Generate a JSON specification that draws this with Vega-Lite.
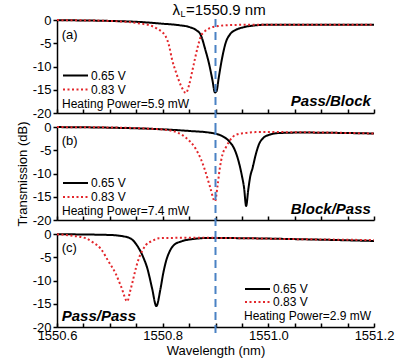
{
  "$schema": "https://vega.github.io/schema/vega-lite/v6.json",
  "padding": {"left": 16, "top": 2, "right": 1, "bottom": 5},
  "bounds": "flush",
  "spacing": 14,
  "config": {
    "font": "Liberation Sans",
    "view": {"stroke": null},
    "axis": {
      "domainColor": "#000", "domainWidth": 1.5, "tickColor": "#000", "tickWidth": 1.5,
      "tickSize": 4, "labelColor": "#000", "labelFontSize": 13, "titleFontSize": 13,
      "titleFontWeight": "normal", "titleColor": "#000", "grid": false, "labelFlush": false,
      "labelOverlap": false, "labelPadding": 2
    },
    "legend": {
      "orient": "none", "titleOrient": "bottom", "titleAnchor": "start", "symbolType": "M-1,0H4",
      "symbolSize": 100, "symbolStrokeWidth": 2, "labelFontSize": 12, "titleFontSize": 12,
      "titleFontWeight": "normal", "labelColor": "#000", "titleColor": "#000", "padding": 0,
      "rowPadding": 2, "titlePadding": 3, "labelOffset": 17
    }
  },
  "resolve": {"legend": {"color": "independent", "strokeDash": "independent"}},
  "datasets": {
    "a": [
      {"wl": 1550.60, "dB": -0.05, "V": "0.65 V"},
      {"wl": 1550.70, "dB": -0.2, "V": "0.65 V"},
      {"wl": 1550.76, "dB": -0.45, "V": "0.65 V"},
      {"wl": 1550.80, "dB": -0.8, "V": "0.65 V"},
      {"wl": 1550.83, "dB": -1.1, "V": "0.65 V"},
      {"wl": 1550.85, "dB": -1.5, "V": "0.65 V"},
      {"wl": 1550.863, "dB": -2.15, "V": "0.65 V"},
      {"wl": 1550.872, "dB": -3.2, "V": "0.65 V"},
      {"wl": 1550.881, "dB": -6.5, "V": "0.65 V"},
      {"wl": 1550.888, "dB": -9.5, "V": "0.65 V"},
      {"wl": 1550.894, "dB": -12.8, "V": "0.65 V"},
      {"wl": 1550.899, "dB": -15.6, "V": "0.65 V"},
      {"wl": 1550.902, "dB": -15.3, "V": "0.65 V"},
      {"wl": 1550.906, "dB": -12.5, "V": "0.65 V"},
      {"wl": 1550.912, "dB": -8.5, "V": "0.65 V"},
      {"wl": 1550.919, "dB": -5.0, "V": "0.65 V"},
      {"wl": 1550.928, "dB": -3.0, "V": "0.65 V"},
      {"wl": 1550.938, "dB": -2.15, "V": "0.65 V"},
      {"wl": 1550.955, "dB": -1.5, "V": "0.65 V"},
      {"wl": 1550.976, "dB": -1.15, "V": "0.65 V"},
      {"wl": 1551.00, "dB": -1.0, "V": "0.65 V"},
      {"wl": 1551.10, "dB": -1.0, "V": "0.65 V"},
      {"wl": 1551.20, "dB": -1.0, "V": "0.65 V"},
      {"wl": 1550.60, "dB": -0.02, "V": "0.83 V"},
      {"wl": 1550.70, "dB": -0.2, "V": "0.83 V"},
      {"wl": 1550.736, "dB": -0.45, "V": "0.83 V"},
      {"wl": 1550.76, "dB": -0.8, "V": "0.83 V"},
      {"wl": 1550.774, "dB": -1.1, "V": "0.83 V"},
      {"wl": 1550.79, "dB": -1.9, "V": "0.83 V"},
      {"wl": 1550.806, "dB": -3.6, "V": "0.83 V"},
      {"wl": 1550.812, "dB": -5.5, "V": "0.83 V"},
      {"wl": 1550.818, "dB": -8.6, "V": "0.83 V"},
      {"wl": 1550.826, "dB": -11.5, "V": "0.83 V"},
      {"wl": 1550.835, "dB": -14.2, "V": "0.83 V"},
      {"wl": 1550.844, "dB": -15.7, "V": "0.83 V"},
      {"wl": 1550.850, "dB": -14.0, "V": "0.83 V"},
      {"wl": 1550.856, "dB": -11.0, "V": "0.83 V"},
      {"wl": 1550.862, "dB": -7.9, "V": "0.83 V"},
      {"wl": 1550.867, "dB": -5.5, "V": "0.83 V"},
      {"wl": 1550.872, "dB": -3.6, "V": "0.83 V"},
      {"wl": 1550.880, "dB": -2.4, "V": "0.83 V"},
      {"wl": 1550.888, "dB": -1.8, "V": "0.83 V"},
      {"wl": 1550.905, "dB": -1.3, "V": "0.83 V"},
      {"wl": 1550.926, "dB": -1.1, "V": "0.83 V"},
      {"wl": 1550.976, "dB": -1.0, "V": "0.83 V"},
      {"wl": 1551.10, "dB": -1.0, "V": "0.83 V"},
      {"wl": 1551.20, "dB": -1.0, "V": "0.83 V"}
    ],
    "b": [
      {"wl": 1550.60, "dB": -0.02, "V": "0.65 V"},
      {"wl": 1550.70, "dB": -0.15, "V": "0.65 V"},
      {"wl": 1550.80, "dB": -0.5, "V": "0.65 V"},
      {"wl": 1550.85, "dB": -0.85, "V": "0.65 V"},
      {"wl": 1550.894, "dB": -1.3, "V": "0.65 V"},
      {"wl": 1550.91, "dB": -1.8, "V": "0.65 V"},
      {"wl": 1550.926, "dB": -3.1, "V": "0.65 V"},
      {"wl": 1550.936, "dB": -4.8, "V": "0.65 V"},
      {"wl": 1550.944, "dB": -7.5, "V": "0.65 V"},
      {"wl": 1550.950, "dB": -10.5, "V": "0.65 V"},
      {"wl": 1550.954, "dB": -13.0, "V": "0.65 V"},
      {"wl": 1550.958, "dB": -17.0, "V": "0.65 V"},
      {"wl": 1550.962, "dB": -13.5, "V": "0.65 V"},
      {"wl": 1550.966, "dB": -10.5, "V": "0.65 V"},
      {"wl": 1550.970, "dB": -8.9, "V": "0.65 V"},
      {"wl": 1550.976, "dB": -6.0, "V": "0.65 V"},
      {"wl": 1550.982, "dB": -3.8, "V": "0.65 V"},
      {"wl": 1550.990, "dB": -2.4, "V": "0.65 V"},
      {"wl": 1551.001, "dB": -1.7, "V": "0.65 V"},
      {"wl": 1551.02, "dB": -1.3, "V": "0.65 V"},
      {"wl": 1551.06, "dB": -1.2, "V": "0.65 V"},
      {"wl": 1551.20, "dB": -1.4, "V": "0.65 V"},
      {"wl": 1550.60, "dB": -0.02, "V": "0.83 V"},
      {"wl": 1550.70, "dB": -0.1, "V": "0.83 V"},
      {"wl": 1550.78, "dB": -0.4, "V": "0.83 V"},
      {"wl": 1550.812, "dB": -0.7, "V": "0.83 V"},
      {"wl": 1550.83, "dB": -1.3, "V": "0.83 V"},
      {"wl": 1550.845, "dB": -2.4, "V": "0.83 V"},
      {"wl": 1550.862, "dB": -4.6, "V": "0.83 V"},
      {"wl": 1550.872, "dB": -6.8, "V": "0.83 V"},
      {"wl": 1550.881, "dB": -9.6, "V": "0.83 V"},
      {"wl": 1550.890, "dB": -13.0, "V": "0.83 V"},
      {"wl": 1550.899, "dB": -16.0, "V": "0.83 V"},
      {"wl": 1550.904, "dB": -12.5, "V": "0.83 V"},
      {"wl": 1550.908, "dB": -9.0, "V": "0.83 V"},
      {"wl": 1550.913, "dB": -6.0, "V": "0.83 V"},
      {"wl": 1550.920, "dB": -4.3, "V": "0.83 V"},
      {"wl": 1550.926, "dB": -3.1, "V": "0.83 V"},
      {"wl": 1550.938, "dB": -1.7, "V": "0.83 V"},
      {"wl": 1550.955, "dB": -1.3, "V": "0.83 V"},
      {"wl": 1550.976, "dB": -1.1, "V": "0.83 V"},
      {"wl": 1551.02, "dB": -1.1, "V": "0.83 V"},
      {"wl": 1551.20, "dB": -1.4, "V": "0.83 V"}
    ],
    "c": [
      {"wl": 1550.60, "dB": -0.05, "V": "0.65 V"},
      {"wl": 1550.698, "dB": -0.2, "V": "0.65 V"},
      {"wl": 1550.73, "dB": -0.6, "V": "0.65 V"},
      {"wl": 1550.745, "dB": -1.5, "V": "0.65 V"},
      {"wl": 1550.755, "dB": -3.1, "V": "0.65 V"},
      {"wl": 1550.764, "dB": -5.2, "V": "0.65 V"},
      {"wl": 1550.771, "dB": -7.4, "V": "0.65 V"},
      {"wl": 1550.780, "dB": -11.7, "V": "0.65 V"},
      {"wl": 1550.788, "dB": -15.5, "V": "0.65 V"},
      {"wl": 1550.796, "dB": -11.7, "V": "0.65 V"},
      {"wl": 1550.801, "dB": -8.5, "V": "0.65 V"},
      {"wl": 1550.806, "dB": -6.0, "V": "0.65 V"},
      {"wl": 1550.813, "dB": -3.8, "V": "0.65 V"},
      {"wl": 1550.821, "dB": -2.4, "V": "0.65 V"},
      {"wl": 1550.835, "dB": -1.6, "V": "0.65 V"},
      {"wl": 1550.856, "dB": -1.1, "V": "0.65 V"},
      {"wl": 1550.888, "dB": -0.85, "V": "0.65 V"},
      {"wl": 1550.95, "dB": -0.9, "V": "0.65 V"},
      {"wl": 1551.05, "dB": -1.1, "V": "0.65 V"},
      {"wl": 1551.20, "dB": -1.5, "V": "0.65 V"},
      {"wl": 1550.60, "dB": -0.05, "V": "0.83 V"},
      {"wl": 1550.63, "dB": -0.4, "V": "0.83 V"},
      {"wl": 1550.654, "dB": -0.9, "V": "0.83 V"},
      {"wl": 1550.668, "dB": -1.8, "V": "0.83 V"},
      {"wl": 1550.683, "dB": -3.2, "V": "0.83 V"},
      {"wl": 1550.698, "dB": -6.0, "V": "0.83 V"},
      {"wl": 1550.711, "dB": -8.5, "V": "0.83 V"},
      {"wl": 1550.722, "dB": -11.5, "V": "0.83 V"},
      {"wl": 1550.733, "dB": -14.5, "V": "0.83 V"},
      {"wl": 1550.738, "dB": -12.5, "V": "0.83 V"},
      {"wl": 1550.743, "dB": -10.3, "V": "0.83 V"},
      {"wl": 1550.749, "dB": -7.5, "V": "0.83 V"},
      {"wl": 1550.755, "dB": -5.2, "V": "0.83 V"},
      {"wl": 1550.762, "dB": -3.5, "V": "0.83 V"},
      {"wl": 1550.768, "dB": -2.4, "V": "0.83 V"},
      {"wl": 1550.78, "dB": -1.5, "V": "0.83 V"},
      {"wl": 1550.793, "dB": -0.9, "V": "0.83 V"},
      {"wl": 1550.856, "dB": -0.8, "V": "0.83 V"},
      {"wl": 1550.95, "dB": -0.9, "V": "0.83 V"},
      {"wl": 1551.05, "dB": -1.1, "V": "0.83 V"},
      {"wl": 1551.20, "dB": -1.3, "V": "0.83 V"}
    ]
  },
  "vconcat": [
    {
      "width": 317, "height": 93,
      "encoding": {
        "x": {"type": "quantitative", "scale": {"domain": [1550.6, 1551.2], "nice": false, "zero": false},
          "axis": {"values": [1550.6, 1550.65, 1550.7, 1550.75, 1550.8, 1550.85, 1550.9, 1550.95, 1551.0, 1551.05, 1551.1, 1551.15, 1551.2], "labels": false, "title": null, "labelOverlap": false, "tickSize": -4}},
        "y": {"type": "quantitative", "scale": {"domain": [-20, 0], "nice": false},
          "axis": {"values": [0, -5, -10, -15, -20], "labelExpr": "'' + datum.value", "title": null, "labelOverlap": false}}
      },
      "layer": [
        {
          "data": {"name": "a"},
          "mark": {"type": "line", "strokeWidth": 2, "interpolate": "monotone"},
          "encoding": {
            "x": {"field": "wl", "type": "quantitative", "scale": {"domain": [1550.6, 1551.2], "nice": false, "zero": false},
              "axis": {"values": [1550.6, 1550.65, 1550.7, 1550.75, 1550.8, 1550.85, 1550.9, 1550.95, 1551.0, 1551.05, 1551.1, 1551.15, 1551.2], "labels": false, "title": null, "labelOverlap": false, "tickSize": -4}},
            "y": {"field": "dB", "type": "quantitative", "scale": {"domain": [-20, 0], "nice": false},
              "axis": {"values": [0, -5, -10, -15, -20], "labelExpr": "'' + datum.value", "title": null, "labelOverlap": false}},
            "color": {"field": "V", "type": "nominal", "scale": {"domain": ["0.65 V", "0.83 V"], "range": ["#000000", "#e3262b"]},
              "legend": {"title": "Heating Power=5.9 mW", "legendX": 5, "legendY": 49.5}},
            "strokeDash": {"field": "V", "type": "nominal", "scale": {"domain": ["0.65 V", "0.83 V"], "range": [[1, 0], [2, 2.5]]},
              "legend": {"title": "Heating Power=5.9 mW", "legendX": 5, "legendY": 49.5}}
          }
        },
        {
          "data": {"values": [{}]},
          "mark": {"type": "rule", "color": "#4a82c4", "strokeDash": [8, 5], "strokeWidth": 2, "clip": false},
          "encoding": {"x": {"datum": 1550.9}, "y": {"datum": 0.2}, "y2": {"datum": -23}}
        },
        {
          "data": {"values": [{}]},
          "mark": {"type": "text", "text": "(a)", "fontSize": 13, "align": "left", "baseline": "middle", "color": "#000"},
          "encoding": {"x": {"datum": 1550.609}, "y": {"datum": -3.3}}
        },
        {
          "data": {"values": [{}]},
          "mark": {"type": "text", "text": "Pass/Block", "fontSize": 15, "fontWeight": "bold", "fontStyle": "italic", "align": "right", "baseline": "middle", "color": "#000"},
          "encoding": {"x": {"datum": 1551.194}, "y": {"datum": -17.4}}
        },
        {
          "data": {"values": [{}]},
          "mark": {"type": "text", "text": "λ", "fontSize": 15, "align": "right", "baseline": "alphabetic", "color": "#000", "clip": false},
          "encoding": {"x": {"datum": 1550.8328}, "y": {"datum": 1.1}}
        },
        {
          "data": {"values": [{}]},
          "mark": {"type": "text", "text": "L", "fontSize": 9, "align": "left", "baseline": "alphabetic", "color": "#000", "clip": false},
          "encoding": {"x": {"datum": 1550.8337}, "y": {"datum": 0.6}}
        },
        {
          "data": {"values": [{}]},
          "mark": {"type": "text", "text": "=1550.9 nm", "fontSize": 15, "align": "left", "baseline": "alphabetic", "color": "#000", "clip": false},
          "encoding": {"x": {"datum": 1550.8442}, "y": {"datum": 1.1}}
        }
      ]
    },
    {
      "width": 317, "height": 93,
      "encoding": {
        "x": {"type": "quantitative", "scale": {"domain": [1550.6, 1551.2], "nice": false, "zero": false},
          "axis": {"values": [1550.6, 1550.65, 1550.7, 1550.75, 1550.8, 1550.85, 1550.9, 1550.95, 1551.0, 1551.05, 1551.1, 1551.15, 1551.2], "labels": false, "title": null, "labelOverlap": false, "tickSize": -4}},
        "y": {"type": "quantitative", "scale": {"domain": [-20, 0], "nice": false},
          "axis": {"values": [0, -5, -10, -15, -20], "labelExpr": "'' + datum.value", "title": "Transmission (dB)", "titlePadding": 3, "labelOverlap": false}}
      },
      "layer": [
        {
          "data": {"name": "b"},
          "mark": {"type": "line", "strokeWidth": 2, "interpolate": "monotone"},
          "encoding": {
            "x": {"field": "wl", "type": "quantitative", "scale": {"domain": [1550.6, 1551.2], "nice": false, "zero": false},
              "axis": {"values": [1550.6, 1550.65, 1550.7, 1550.75, 1550.8, 1550.85, 1550.9, 1550.95, 1551.0, 1551.05, 1551.1, 1551.15, 1551.2], "labels": false, "title": null, "labelOverlap": false, "tickSize": -4}},
            "y": {"field": "dB", "type": "quantitative", "scale": {"domain": [-20, 0], "nice": false},
              "axis": {"values": [0, -5, -10, -15, -20], "labelExpr": "'' + datum.value", "title": "Transmission (dB)", "titlePadding": 3, "labelOverlap": false}},
            "color": {"field": "V", "type": "nominal", "scale": {"domain": ["0.65 V", "0.83 V"], "range": ["#000000", "#e3262b"]},
              "legend": {"title": "Heating Power=7.4 mW", "legendX": 5, "legendY": 50}},
            "strokeDash": {"field": "V", "type": "nominal", "scale": {"domain": ["0.65 V", "0.83 V"], "range": [[1, 0], [2, 2.5]]},
              "legend": {"title": "Heating Power=7.4 mW", "legendX": 5, "legendY": 50}}
          }
        },
        {
          "data": {"values": [{}]},
          "mark": {"type": "rule", "color": "#4a82c4", "strokeDash": [8, 5], "strokeWidth": 2, "clip": false},
          "encoding": {"x": {"datum": 1550.9}, "y": {"datum": 0}, "y2": {"datum": -23}}
        },
        {
          "data": {"values": [{}]},
          "mark": {"type": "text", "text": "(b)", "fontSize": 13, "align": "left", "baseline": "middle", "color": "#000"},
          "encoding": {"x": {"datum": 1550.609}, "y": {"datum": -3.0}}
        },
        {
          "data": {"values": [{}]},
          "mark": {"type": "text", "text": "Block/Pass", "fontSize": 15, "fontWeight": "bold", "fontStyle": "italic", "align": "right", "baseline": "middle", "color": "#000"},
          "encoding": {"x": {"datum": 1551.194}, "y": {"datum": -17.6}}
        }
      ]
    },
    {
      "width": 317, "height": 93,
      "encoding": {
        "x": {"type": "quantitative", "scale": {"domain": [1550.6, 1551.2], "nice": false, "zero": false},
          "axis": {"values": [1550.6, 1550.65, 1550.7, 1550.75, 1550.8, 1550.85, 1550.9, 1550.95, 1551.0, 1551.05, 1551.1, 1551.15, 1551.2],
            "labelExpr": "(round(datum.value*100) % 20 == 0) ? format(datum.value, '.1f') : ''", "title": "Wavelength (nm)", "titlePadding": 2, "labelOverlap": false, "tickSize": -4, "labelPadding": 6}},
        "y": {"type": "quantitative", "scale": {"domain": [-20, 0], "nice": false},
          "axis": {"values": [0, -5, -10, -15, -20], "labelExpr": "'' + datum.value", "title": null, "labelOverlap": false}}
      },
      "layer": [
        {
          "data": {"name": "c"},
          "mark": {"type": "line", "strokeWidth": 2, "interpolate": "monotone"},
          "encoding": {
            "x": {"field": "wl", "type": "quantitative", "scale": {"domain": [1550.6, 1551.2], "nice": false, "zero": false},
              "axis": {"values": [1550.6, 1550.65, 1550.7, 1550.75, 1550.8, 1550.85, 1550.9, 1550.95, 1551.0, 1551.05, 1551.1, 1551.15, 1551.2],
                "labelExpr": "(round(datum.value*100) % 20 == 0) ? format(datum.value, '.1f') : ''", "title": "Wavelength (nm)", "titlePadding": 2, "labelOverlap": false, "tickSize": -4, "labelPadding": 6}},
            "y": {"field": "dB", "type": "quantitative", "scale": {"domain": [-20, 0], "nice": false},
              "axis": {"values": [0, -5, -10, -15, -20], "labelExpr": "'' + datum.value", "title": null, "labelOverlap": false}},
            "color": {"field": "V", "type": "nominal", "scale": {"domain": ["0.65 V", "0.83 V"], "range": ["#000000", "#e3262b"]},
              "legend": {"title": "Heating Power=2.9 mW", "legendX": 187, "legendY": 49, "rowPadding": 1}},
            "strokeDash": {"field": "V", "type": "nominal", "scale": {"domain": ["0.65 V", "0.83 V"], "range": [[1, 0], [2, 2.5]]},
              "legend": {"title": "Heating Power=2.9 mW", "legendX": 187, "legendY": 49, "rowPadding": 1}}
          }
        },
        {
          "data": {"values": [{}]},
          "mark": {"type": "rule", "color": "#4a82c4", "strokeDash": [8, 5], "strokeWidth": 2, "clip": false},
          "encoding": {"x": {"datum": 1550.9}, "y": {"datum": 0}, "y2": {"datum": -21.7}}
        },
        {
          "data": {"values": [{}]},
          "mark": {"type": "text", "text": "(c)", "fontSize": 13, "align": "left", "baseline": "middle", "color": "#000"},
          "encoding": {"x": {"datum": 1550.609}, "y": {"datum": -3.0}}
        },
        {
          "data": {"values": [{}]},
          "mark": {"type": "text", "text": "Pass/Pass", "fontSize": 15, "fontWeight": "bold", "fontStyle": "italic", "align": "left", "baseline": "middle", "color": "#000"},
          "encoding": {"x": {"datum": 1550.609}, "y": {"datum": -17.6}}
        }
      ]
    }
  ]
}
